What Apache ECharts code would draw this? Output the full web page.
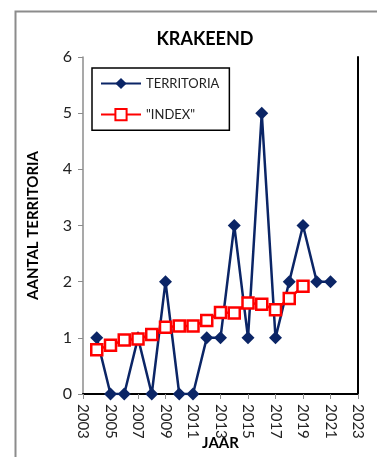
<!DOCTYPE html>
<html>
<head>
<meta charset="utf-8">
<script src="https://cdn.jsdelivr.net/npm/echarts@6/dist/echarts.min.js"></script>
<style>
html,body{margin:0;padding:0;background:#fff;}
#chart{width:377px;height:457px;}
</style>
</head>
<body>
<div id="chart"></div>
<script>
var territoriaYears = [2004,2005,2006,2007,2008,2009,2010,2011,2012,2013,2014,2015,2016,2017,2018,2019,2020,2021];
var territoriaValues = [1,0,0,1,0,2,0,0,1,1,3,1,5,1,2,3,2,2];
var indexYears = [2004,2005,2006,2007,2008,2009,2010,2011,2012,2013,2014,2015,2016,2017,2018,2019];
var indexValues = [0.79,0.87,0.96,0.98,1.06,1.19,1.21,1.21,1.31,1.45,1.44,1.62,1.60,1.50,1.70,1.92];
var xTicks = [2003,2005,2007,2009,2011,2013,2015,2017,2019,2021,2023];
var yTicks = [0,1,2,3,4,5,6];

function pairs(xs, ys){ return xs.map(function(x,i){ return [x, ys[i]]; }); }

var font = 'Lato, "Open Sans", sans-serif';
var chart = echarts.init(document.getElementById('chart'));
chart.setOption({
  animation: false,
  backgroundColor: '#fff',
  graphic: [{
    type: 'rect', left: 13, top: 9, z: -1,
    shape: {width: 400, height: 470},
    style: {fill: 'none', stroke: '#8c8c8c', lineWidth: 2}
  }],
  title: {
    text: 'KRAKEEND', left: 200, textAlign: 'center', top: 25,
    textStyle: {fontFamily: font, fontWeight: 'bold', fontSize: 18, color: '#000'}
  },
  legend: {
    orient: 'vertical', left: 92, top: 68,
    padding: [9, 10, 9, 8], itemGap: 18,
    itemWidth: 40, itemHeight: 14,
    borderColor: '#000', borderWidth: 1.5,
    textStyle: {fontFamily: font, fontSize: 13, color: '#222'},
    data: ['TERRITORIA', '"INDEX"']
  },
  grid: {left: 83, top: 57, right: 19, bottom: 63, containLabel: false, outerBoundsMode: 'none'},
  xAxis: [{
    type: 'value', min: xTicks[0], max: xTicks[xTicks.length-1], interval: 2,
    name: 'JAAR', nameLocation: 'middle', nameGap: 42, nameMoveOverlap: false,
    nameTextStyle: {fontFamily: font, fontWeight: 'bold', fontSize: 15, color: '#000'},
    axisLine: {lineStyle: {color: '#8c8c8c', width: 1.5}},
    axisTick: {show: true, length: 5, lineStyle: {color: '#8c8c8c'}},
    axisLabel: {rotate: -90, margin: 10, fontFamily: font, fontSize: 15, color: '#222',
      formatter: function(v){ return String(v); }},
    splitLine: {show: false}
  }, {
    type: 'value', position: 'top', min: xTicks[0], max: xTicks[xTicks.length-1],
    axisLine: {show: true, lineStyle: {color: '#000', width: 2}},
    axisTick: {show: false}, axisLabel: {show: false}, splitLine: {show: false}
  }],
  yAxis: [{
    type: 'value', min: yTicks[0], max: yTicks[yTicks.length-1], interval: 1,
    name: 'AANTAL TERRITORIA', nameLocation: 'middle', nameGap: 42, nameMoveOverlap: false,
    nameTextStyle: {fontFamily: font, fontWeight: 'bold', fontSize: 15, color: '#000'},
    axisLine: {show: true, lineStyle: {color: '#8c8c8c', width: 1.5}},
    axisTick: {show: true, inside: false, length: 5, lineStyle: {color: '#8c8c8c'}},
    axisLabel: {margin: 11, fontFamily: font, fontSize: 16, color: '#222'},
    splitLine: {show: false}
  }, {
    type: 'value', position: 'right', min: yTicks[0], max: yTicks[yTicks.length-1],
    axisLine: {show: true, lineStyle: {color: '#000', width: 2}},
    axisTick: {show: false}, axisLabel: {show: false}, splitLine: {show: false}
  }],
  series: [{
    name: 'TERRITORIA', type: 'line',
    data: pairs(territoriaYears, territoriaValues),
    symbol: 'diamond', symbolSize: 13,
    itemStyle: {color: '#0b2566'},
    lineStyle: {color: '#0b2566', width: 2.5},
    z: 2
  }, {
    name: '"INDEX"', type: 'line',
    data: pairs(indexYears, indexValues),
    symbol: 'rect', symbolSize: 11,
    itemStyle: {color: '#fff', borderColor: '#ff0000', borderWidth: 2.5},
    lineStyle: {color: '#ff0000', width: 2.5},
    z: 3
  }]
});
</script>
</body>
</html>
